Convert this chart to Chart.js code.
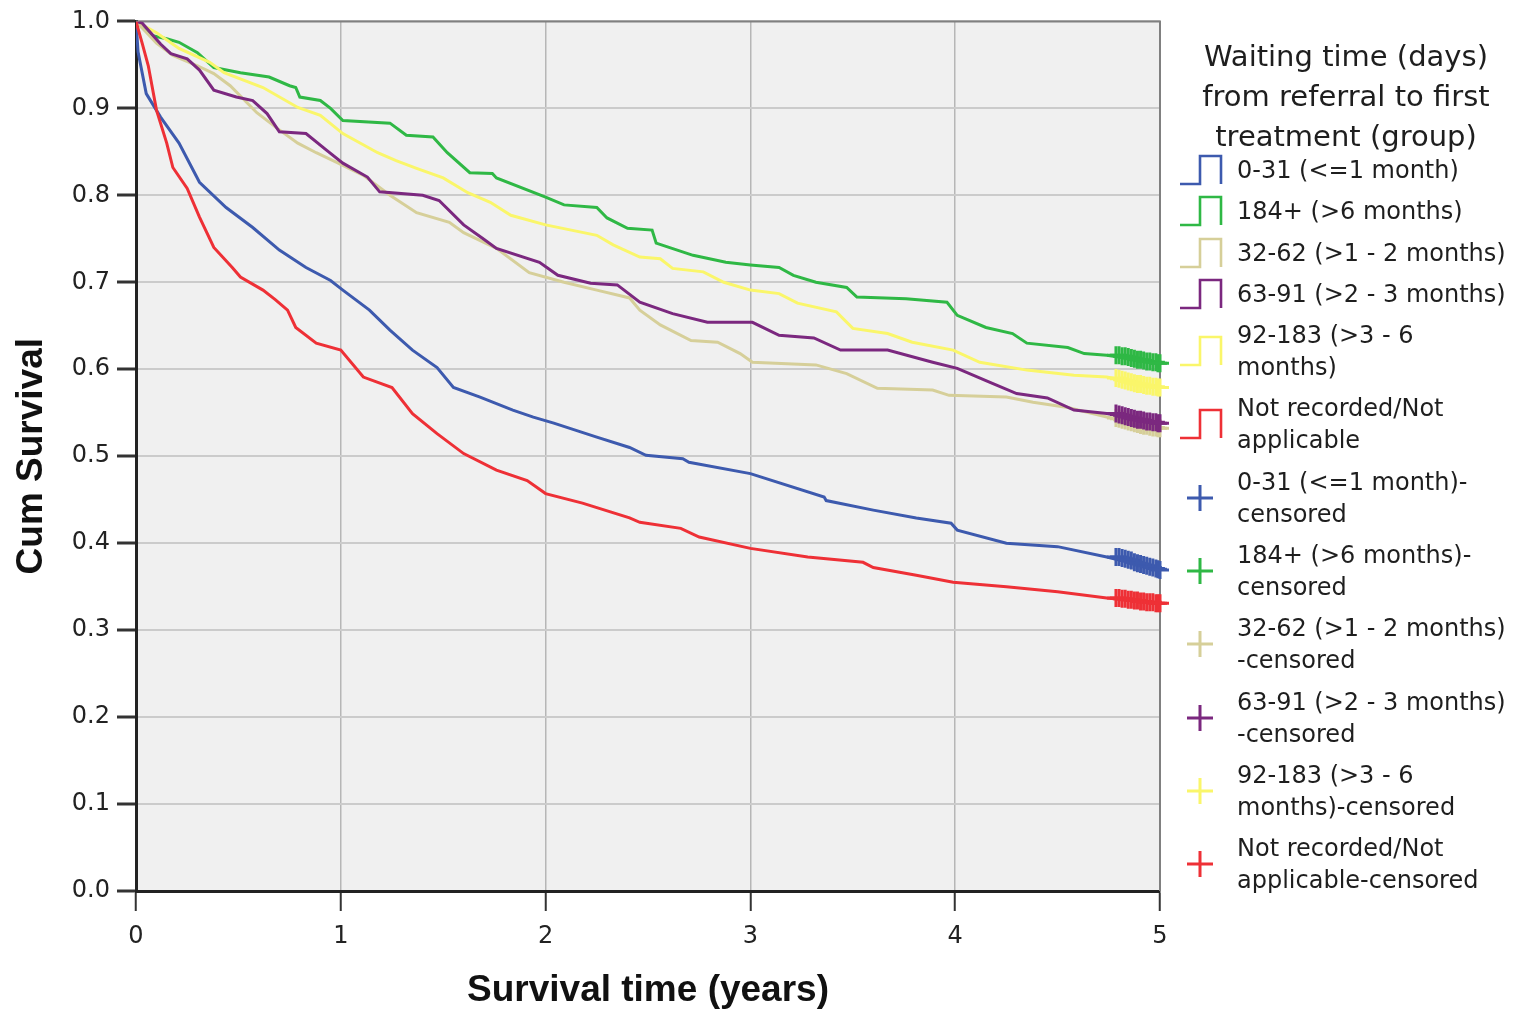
<!DOCTYPE html>
<html lang="en">
<head>
  <meta charset="UTF-8">
  <title>Cum Survival by waiting time</title>
  <script src="https://cdn.jsdelivr.net/npm/chart.js"></script>
  <style>
    body {
      margin: 0;
      background: #fff;
      font-family: 'DejaVu Sans', sans-serif;
      color: #1e1e1e;
    }

    #wrap {
      position: relative;
      width: 1516px;
      height: 1009px;
    }

    #legend {
      position: absolute;
      left: 1176px;
      top: 36px;
      width: 340px;
    }

    .legend-title {
      font-size: 29px;
      line-height: 40px;
      text-align: center;
      white-space: pre-line;
    }

    .legend-list {
      margin-top: -2px;
    }

    .legend-item {
      display: flex;
      align-items: center;
      margin-bottom: 9.3px;
    }

    .legend-icon {
      width: 61px;
      flex: none;
    }

    .legend-icon svg {
      display: block;
      margin-left: 3px;
    }

    .legend-text {
      font-size: 24px;
      line-height: 32px;
      white-space: pre;
    }
  </style>
</head>
<body>

  <div id="wrap">
    <canvas id="kmChart" width="1516" height="1009"></canvas>
    <div id="legend"></div>
  </div>

  <script>
    // survival time (years) and cumulative survival
    const m1Time = [0, 0.01, 0.05, 0.12, 0.21, 0.31, 0.44, 0.57, 0.70, 0.83, 0.95, 1.01, 1.14, 1.24, 1.35, 1.47, 1.55, 1.68, 1.84, 1.94, 2.04, 2.25, 2.41, 2.49, 2.67, 2.70, 3.00, 3.36, 3.37, 3.60, 3.81, 3.98, 4.01, 4.25, 4.50, 4.74, 5.00];
    const m1Surv = [1.0, 0.965, 0.917, 0.890, 0.860, 0.815, 0.786, 0.763, 0.737, 0.717, 0.702, 0.691, 0.668, 0.645, 0.622, 0.602, 0.579, 0.568, 0.553, 0.545, 0.538, 0.522, 0.510, 0.501, 0.497, 0.493, 0.480, 0.453, 0.449, 0.438, 0.429, 0.423, 0.415, 0.400, 0.396, 0.384, 0.369];

    const m6Time = [0, 0.07, 0.15, 0.21, 0.30, 0.38, 0.51, 0.65, 0.75, 0.78, 0.80, 0.90, 0.95, 1.01, 1.24, 1.32, 1.45, 1.52, 1.63, 1.74, 1.76, 2.00, 2.09, 2.25, 2.30, 2.40, 2.52, 2.54, 2.72, 2.88, 3.00, 3.14, 3.21, 3.32, 3.47, 3.52, 3.76, 3.96, 4.01, 4.15, 4.28, 4.35, 4.55, 4.63, 4.74, 5.00];
    const m6Surv = [1.0, 0.984, 0.980, 0.976, 0.964, 0.947, 0.941, 0.936, 0.926, 0.924, 0.913, 0.909, 0.900, 0.886, 0.883, 0.869, 0.867, 0.849, 0.826, 0.825, 0.820, 0.798, 0.789, 0.786, 0.774, 0.762, 0.760, 0.745, 0.731, 0.723, 0.720, 0.717, 0.708, 0.700, 0.694, 0.683, 0.681, 0.677, 0.662, 0.648, 0.641, 0.630, 0.625, 0.618, 0.616, 0.607];

    const m2Time = [0, 0.10, 0.18, 0.30, 0.38, 0.46, 0.59, 0.69, 0.79, 0.88, 0.98, 1.11, 1.24, 1.37, 1.53, 1.60, 1.76, 1.92, 2.09, 2.25, 2.41, 2.46, 2.56, 2.71, 2.84, 2.95, 3.01, 3.32, 3.47, 3.62, 3.89, 3.97, 4.25, 4.38, 4.55, 4.74, 5.00];
    const m2Surv = [1.0, 0.975, 0.961, 0.949, 0.940, 0.926, 0.895, 0.877, 0.860, 0.849, 0.838, 0.823, 0.800, 0.780, 0.769, 0.757, 0.739, 0.711, 0.700, 0.691, 0.682, 0.668, 0.651, 0.633, 0.631, 0.618, 0.608, 0.605, 0.595, 0.578, 0.576, 0.570, 0.568, 0.562, 0.556, 0.545, 0.532];

    const m3Time = [0, 0.03, 0.12, 0.17, 0.25, 0.31, 0.38, 0.49, 0.57, 0.64, 0.70, 0.83, 0.93, 1.01, 1.13, 1.19, 1.40, 1.48, 1.60, 1.69, 1.76, 1.97, 2.06, 2.22, 2.35, 2.46, 2.62, 2.79, 3.01, 3.14, 3.31, 3.44, 3.67, 3.89, 4.01, 4.17, 4.30, 4.45, 4.58, 4.74, 5.00];
    const m3Surv = [1.0, 0.998, 0.974, 0.963, 0.957, 0.944, 0.921, 0.913, 0.909, 0.894, 0.873, 0.871, 0.852, 0.837, 0.821, 0.804, 0.800, 0.794, 0.766, 0.751, 0.739, 0.723, 0.708, 0.699, 0.697, 0.677, 0.664, 0.654, 0.654, 0.639, 0.636, 0.622, 0.622, 0.608, 0.601, 0.585, 0.572, 0.567, 0.553, 0.549, 0.538];

    const m36Time = [0, 0.10, 0.21, 0.36, 0.43, 0.62, 0.79, 0.90, 1.01, 1.18, 1.27, 1.37, 1.50, 1.62, 1.73, 1.83, 2.00, 2.25, 2.33, 2.46, 2.56, 2.62, 2.77, 2.87, 3.00, 3.14, 3.23, 3.42, 3.50, 3.67, 3.79, 3.99, 4.12, 4.35, 4.58, 4.74, 5.00];
    const m36Surv = [1.0, 0.987, 0.969, 0.953, 0.941, 0.924, 0.901, 0.892, 0.871, 0.849, 0.840, 0.831, 0.820, 0.803, 0.792, 0.777, 0.766, 0.754, 0.743, 0.729, 0.727, 0.716, 0.712, 0.700, 0.691, 0.687, 0.676, 0.666, 0.647, 0.641, 0.631, 0.622, 0.608, 0.599, 0.593, 0.591, 0.579];

    const nrTime = [0, 0.03, 0.06, 0.10, 0.15, 0.18, 0.25, 0.31, 0.38, 0.47, 0.51, 0.62, 0.68, 0.74, 0.78, 0.88, 1.00, 1.11, 1.25, 1.35, 1.47, 1.60, 1.76, 1.91, 2.00, 2.18, 2.41, 2.46, 2.66, 2.75, 3.00, 3.28, 3.55, 3.60, 3.81, 3.99, 4.25, 4.50, 4.74, 5.00];
    const nrSurv = [1.0, 0.975, 0.949, 0.898, 0.860, 0.832, 0.808, 0.775, 0.740, 0.717, 0.706, 0.691, 0.680, 0.668, 0.648, 0.630, 0.622, 0.591, 0.579, 0.549, 0.526, 0.503, 0.484, 0.472, 0.457, 0.446, 0.429, 0.424, 0.417, 0.407, 0.394, 0.384, 0.378, 0.372, 0.363, 0.355, 0.350, 0.344, 0.337, 0.331];

    // censored cases (the dense "+" marks at the end of follow-up)
    const censorTime = [4.785, 4.80, 4.815, 4.83, 4.845, 4.86, 4.875, 4.89, 4.905, 4.92, 4.935, 4.95, 4.965, 4.98, 4.99, 5.00];
    const m1Censor = [0.384, 0.384, 0.383, 0.382, 0.381, 0.380, 0.378, 0.377, 0.376, 0.375, 0.374, 0.373, 0.372, 0.371, 0.370, 0.369];
    const m6Censor = [0.616, 0.616, 0.615, 0.615, 0.614, 0.613, 0.612, 0.611, 0.611, 0.610, 0.609, 0.609, 0.608, 0.608, 0.607, 0.607];
    const m2Censor = [0.544, 0.543, 0.542, 0.541, 0.540, 0.539, 0.538, 0.537, 0.536, 0.535, 0.535, 0.534, 0.533, 0.533, 0.532, 0.532];
    const m3Censor = [0.549, 0.548, 0.547, 0.546, 0.545, 0.544, 0.543, 0.542, 0.542, 0.541, 0.540, 0.540, 0.539, 0.539, 0.538, 0.538];
    const m36Censor = [0.590, 0.589, 0.588, 0.587, 0.586, 0.585, 0.584, 0.583, 0.583, 0.582, 0.581, 0.581, 0.580, 0.580, 0.579, 0.579];
    const nrCensor = [0.337, 0.337, 0.336, 0.336, 0.335, 0.335, 0.334, 0.334, 0.333, 0.333, 0.332, 0.332, 0.332, 0.331, 0.331, 0.331];

    const groupNames = ['0-31 (<=1 month)', '184+ (>6 months)', '32-62 (>1 - 2 months)', '63-91 (>2 - 3 months)', '92-183 (>3 - 6 months)', 'Not recorded/Not applicable'];
    const stepLabels = ['0-31 (<=1 month)', '184+ (>6 months)', '32-62 (>1 - 2 months)', '63-91 (>2 - 3 months)', '92-183 (>3 - 6\nmonths)', 'Not recorded/Not\napplicable'];
    const censorLabels = ['0-31 (<=1 month)-\ncensored', '184+ (>6 months)-\ncensored', '32-62 (>1 - 2 months)\n-censored', '63-91 (>2 - 3 months)\n-censored', '92-183 (>3 - 6\nmonths)-censored', 'Not recorded/Not\napplicable-censored'];
    const groupColors = ['#3d5aae', '#2fb845', '#d6cf99', '#7b287f', '#faf66a', '#ee3036'];
    const drawOrder = [2, 6, 4, 3, 5, 1];

    const xTicks = [0, 1, 2, 3, 4, 5];
    const yTicks = [0, 0.1, 0.2, 0.3, 0.4, 0.5, 0.6, 0.7, 0.8, 0.9, 1.0];

    const curves = [[m1Time, m1Surv], [m6Time, m6Surv], [m2Time, m2Surv], [m3Time, m3Surv], [m36Time, m36Surv], [nrTime, nrSurv]];
    const censors = [m1Censor, m6Censor, m2Censor, m3Censor, m36Censor, nrCensor];

    const datasets = [];
    curves.forEach(([t, s], i) => {
      datasets.push({
        label: groupNames[i],
        data: t.map((x, k) => ({ x, y: s[k] })),
        borderColor: groupColors[i],
        borderWidth: 3,
        pointRadius: 0,
        tension: 0,
        fill: false,
        order: drawOrder[i] + 10
      });
    });
    censors.forEach((s, i) => {
      datasets.push({
        label: groupNames[i] + '-censored',
        data: censorTime.map((x, k) => ({ x, y: s[k] })),
        showLine: false,
        pointStyle: 'cross',
        pointRadius: 9,
        pointBorderWidth: 3,
        borderColor: groupColors[i],
        backgroundColor: groupColors[i],
        clip: false,
        order: drawOrder[i]
      });
    });

    const plotFrame = {
      id: 'plotFrame',
      beforeDraw(chart) {
        const { ctx, chartArea: a } = chart;
        ctx.save();
        ctx.fillStyle = '#f0f0f0';
        ctx.fillRect(a.left, a.top, a.right - a.left, a.bottom - a.top);
        ctx.restore();
      },
      beforeDatasetsDraw(chart) {
        const { ctx, chartArea: a } = chart;
        ctx.save();
        ctx.strokeStyle = '#808080';
        ctx.lineWidth = 2;
        ctx.beginPath();
        ctx.moveTo(a.left, a.top);
        ctx.lineTo(a.right, a.top);
        ctx.lineTo(a.right, a.bottom);
        ctx.stroke();
        ctx.restore();
      }
    };

    const tickFont = { family: "'DejaVu Sans', sans-serif", size: 24 };
    const titleFont = { family: "'Liberation Sans', Arial, sans-serif", size: 37, weight: 'bold', lineHeight: 1 };

    new Chart(document.getElementById('kmChart'), {
      type: 'line',
      data: { datasets },
      plugins: [plotFrame],
      options: {
        responsive: false,
        animation: false,
        layout: { padding: { top: 21, right: 356, left: 0, bottom: 0 } },
        plugins: {
          legend: { display: false },
          tooltip: { enabled: false }
        },
        scales: {
          x: {
            type: 'linear',
            min: 0,
            max: 5,
            afterBuildTicks: (scale) => { scale.ticks = xTicks.map(v => ({ value: v })); },
            afterFit: (scale) => { scale.height = 118; },
            ticks: { color: '#222', font: tickFont, padding: 11 },
            grid: { color: '#b6b6b6', lineWidth: 1.5, tickColor: '#333', tickWidth: 2, tickLength: 20 },
            border: { color: '#222', width: 3 },
            title: { display: true, text: 'Survival time (years)', color: '#111', font: titleFont, padding: { top: 0, bottom: 0 } }
          },
          y: {
            type: 'linear',
            min: 0,
            max: 1,
            afterBuildTicks: (scale) => { scale.ticks = yTicks.map(v => ({ value: v })); },
            afterFit: (scale) => { scale.width = 136; },
            ticks: { color: '#222', font: tickFont, padding: 7, callback: v => v.toFixed(1) },
            grid: { color: '#cbcbcb', lineWidth: 2, tickColor: '#333', tickWidth: 3, tickLength: 19 },
            border: { color: '#222', width: 3 },
            title: { display: true, text: 'Cum Survival', color: '#111', font: titleFont, padding: { top: 13, bottom: 0 } }
          }
        }
      }
    });

    // legend on the right, built from the same names and colours
    function stepIcon(color) {
      return `<svg width="44" height="32" viewBox="0 0 44 32"><path d="M1 30 H21 V2 H42 V30" fill="none" stroke="${color}" stroke-width="2.6"/></svg>`;
    }

    function crossIcon(color) {
      return `<svg width="44" height="32" viewBox="0 0 44 32"><path d="M8 16 H34 M21 3 V29" fill="none" stroke="${color}" stroke-width="3"/></svg>`;
    }

    function renderLegend() {
      const legend = document.getElementById('legend');
      const title = document.createElement('div');
      title.className = 'legend-title';
      title.textContent = 'Waiting time (days)\nfrom referral to first\ntreatment (group)';
      legend.appendChild(title);

      const list = document.createElement('div');
      list.className = 'legend-list';
      const addItem = (icon, text) => {
        const item = document.createElement('div');
        item.className = 'legend-item';
        const iconBox = document.createElement('div');
        iconBox.className = 'legend-icon';
        iconBox.innerHTML = icon;
        const label = document.createElement('div');
        label.className = 'legend-text';
        label.textContent = text;
        item.appendChild(iconBox);
        item.appendChild(label);
        list.appendChild(item);
      };
      stepLabels.forEach((text, i) => addItem(stepIcon(groupColors[i]), text));
      censorLabels.forEach((text, i) => addItem(crossIcon(groupColors[i]), text));
      legend.appendChild(list);
    }

    renderLegend();
  </script>

</body>
</html>
